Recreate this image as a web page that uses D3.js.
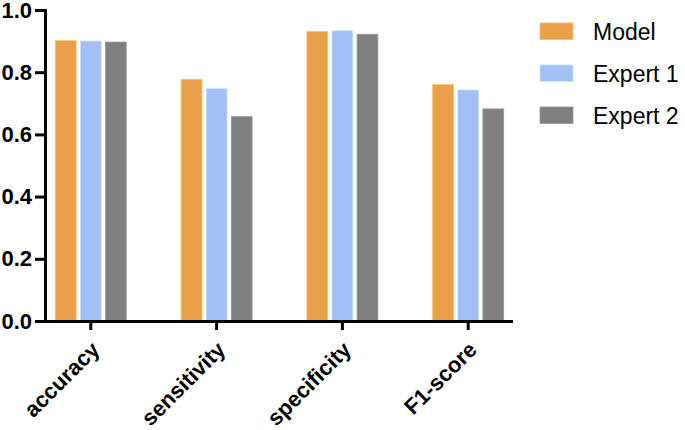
<!DOCTYPE html>
<html>
<head>
<meta charset="utf-8">
<script src="https://cdn.jsdelivr.net/npm/d3@7"></script>
<style>
  body { margin: 0; background: #fff; }
  svg { display: block; font-family: "Liberation Sans", Arial, sans-serif; }
</style>
</head>
<body>
<svg id="chart" width="685" height="430"></svg>
<script>
// data
var metrics = ["accuracy", "sensitivity", "specificity", "F1-score"];
var groups = ["Model", "Expert 1", "Expert 2"];
var model   = [0.901, 0.777, 0.931, 0.760];
var expert1 = [0.900, 0.747, 0.933, 0.743];
var expert2 = [0.897, 0.657, 0.922, 0.682];
var yTicks = [0.0, 0.2, 0.4, 0.6, 0.8, 1.0];
var colors = ["#EAA04B", "#A0C0F5", "#7F7F80"];

var series = [model, expert1, expert2];
var rows = metrics.map(function(m, i) {
  return { metric: m, values: groups.map(function(g, j) { return { group: g, value: series[j][i] }; }) };
});

var svg = d3.select("#chart");

var x0 = d3.scalePoint()
  .domain(metrics)
  .range([45, 513])
  .padding(0.36);

var x1 = d3.scaleBand()
  .domain(groups)
  .range([-35, 36])
  .paddingInner(0.17);

var y = d3.scaleLinear()
  .domain([0, 1])
  .range([321, 10]);

var color = d3.scaleOrdinal().domain(groups).range(colors);

// bars
svg.append("g")
  .selectAll("g")
  .data(rows)
  .enter()
  .append("g")
    .attr("transform", function(d) { return "translate(" + x0(d.metric) + ",0)"; })
  .selectAll("rect")
  .data(function(d) { return d.values; })
  .enter()
  .append("rect")
    .attr("x", function(d) { return x1(d.group); })
    .attr("y", function(d) { return y(d.value); })
    .attr("width", x1.bandwidth())
    .attr("height", function(d) { return y(0) - y(d.value); })
    .attr("fill", function(d) { return color(d.group); })
    .attr("stroke", function(d) { return d3.color(color(d.group)).brighter(0.5); })
    .attr("stroke-width", 0.8);

// y axis
var yAxis = svg.append("g")
  .attr("transform", "translate(45,0)")
  .call(d3.axisLeft(y).tickValues(yTicks).tickFormat(d3.format(".1f")).tickSize(10).tickPadding(3));

// x axis
var xAxis = svg.append("g")
  .attr("transform", "translate(0,321)")
  .call(d3.axisBottom(x0).tickSize(9).tickSizeOuter(0));

xAxis.select(".domain").attr("d", "M35,0.5H513");

[yAxis, xAxis].forEach(function(a) {
  a.selectAll(".domain, line").attr("stroke", "#000").attr("stroke-width", 3);
  a.selectAll("text")
    .attr("fill", "#000")
    .style("font-size", "22px")
    .style("font-weight", "bold");
});

xAxis.selectAll("text")
  .attr("text-anchor", "end")
  .attr("y", 0)
  .attr("dy", "0")
  .attr("transform", "translate(10,30) rotate(-45)");

// legend
var legend = svg.append("g")
  .selectAll("g")
  .data(groups)
  .enter()
  .append("g")
    .attr("transform", function(d, i) { return "translate(540," + (23 + i * 42) + ")"; });

legend.append("rect")
  .attr("width", 33)
  .attr("height", 16.5)
  .attr("fill", function(d) { return color(d); })
  .attr("stroke", function(d) { return d3.color(color(d)).brighter(0.5); })
  .attr("stroke-width", 0.8);

legend.append("text")
  .attr("x", 53)
  .attr("y", 16.5)
  .style("font-size", "23px")
  .attr("fill", "#000")
  .text(function(d) { return d; });
</script>
</body>
</html>
